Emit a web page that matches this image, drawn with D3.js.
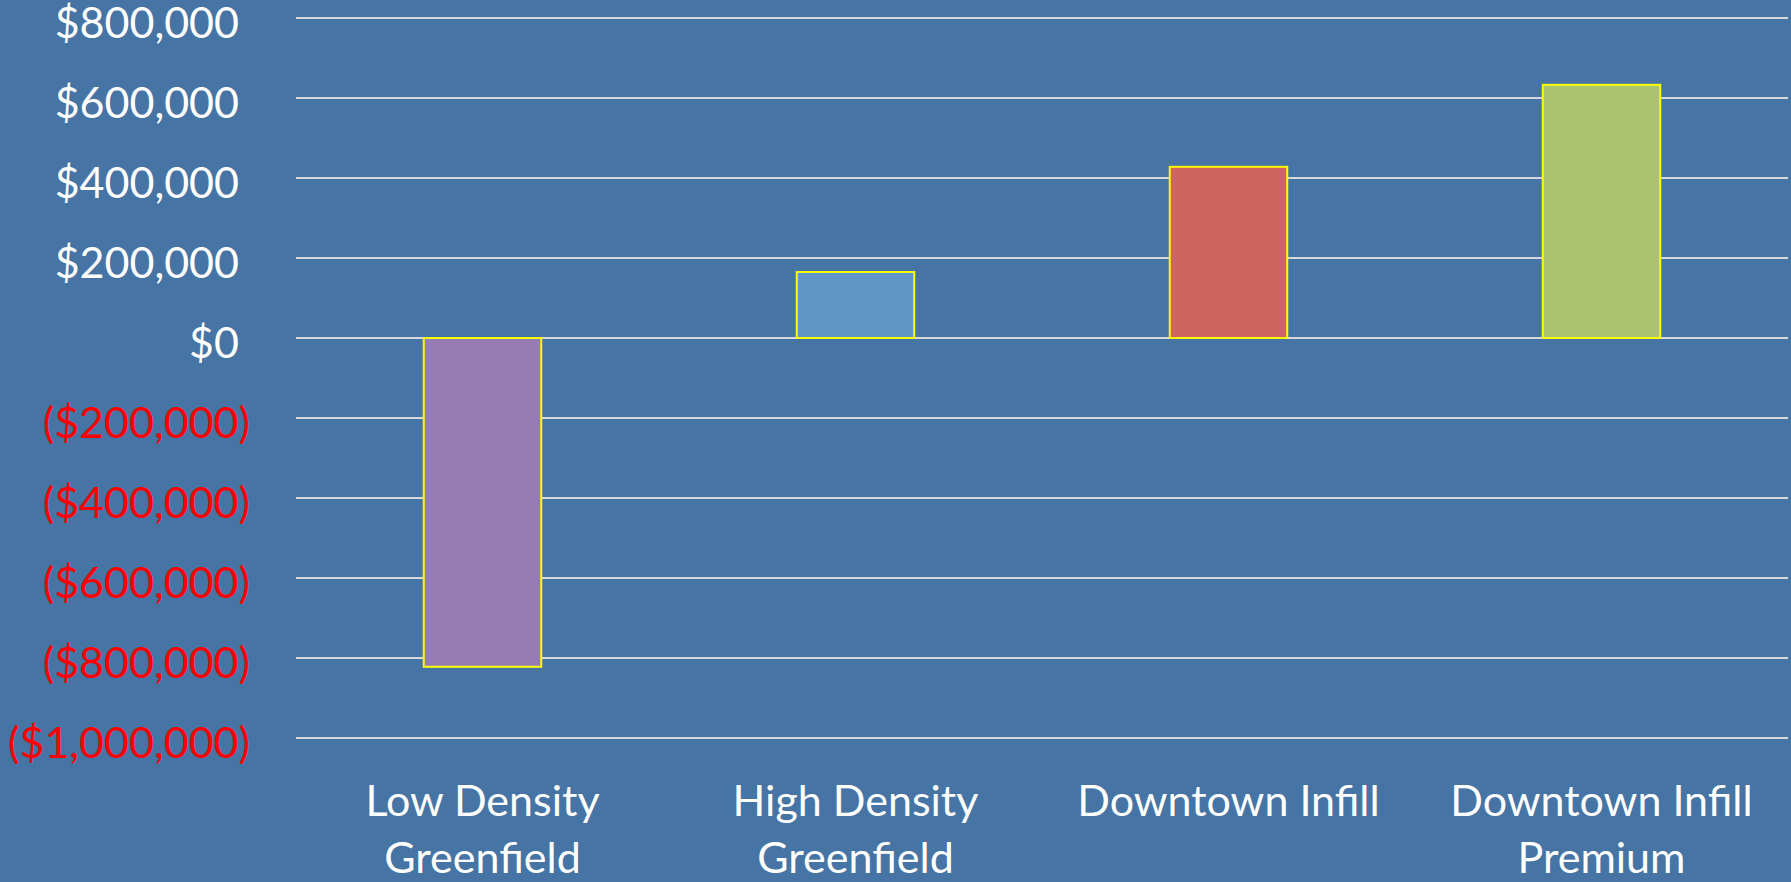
<!DOCTYPE html>
<html>
<head>
<meta charset="utf-8">
<script src="https://cdn.jsdelivr.net/npm/d3@7"></script>
<style>
  html, body { margin: 0; padding: 0; background: #4674A4; }
  svg { display: block; }
</style>
</head>
<body>
<svg id="chart" width="1791" height="882"></svg>
<script>
// Net fiscal impact per development scenario
const categories = [
  ["Low Density", "Greenfield"],
  ["High Density", "Greenfield"],
  ["Downtown Infill"],
  ["Downtown Infill", "Premium"]
];
const values = [-822000, 165000, 428000, 633000];
const barColors = ["#957DB1", "#6197C8", "#CD665E", "#AAC46E"];
const tickValues = [800000, 600000, 400000, 200000, 0, -200000, -400000, -600000, -800000, -1000000];

const W = 1791, H = 882;
const plot = { left: 296, right: 1788, top: 18, bottom: 738 };

const svg = d3.select("#chart");
svg.append("rect").attr("width", W).attr("height", H).attr("fill", "#4674A4");

const x = d3.scaleBand()
  .domain(d3.range(categories.length))
  .range([plot.left, plot.right])
  .paddingInner(0.685)
  .paddingOuter(0.3425);

const y = d3.scaleLinear()
  .domain([-1000000, 800000])
  .range([plot.bottom, plot.top]);

const money = d3.format("$,");
const fmt = v => v < 0 ? "(" + money(-v) + ")" : money(v);

// horizontal gridlines
svg.append("g")
  .selectAll("line")
  .data(tickValues)
  .join("line")
  .attr("x1", plot.left)
  .attr("x2", plot.right)
  .attr("y1", d => y(d))
  .attr("y2", d => y(d))
  .attr("stroke", "#D9D9D9")
  .attr("stroke-width", 2);

// value axis labels
const axis = d3.axisLeft(y).tickValues(tickValues).tickFormat(fmt).tickSize(0).tickPadding(0);
const ag = svg.append("g").attr("transform", "translate(250,0)").call(axis);
ag.select(".domain").remove();
ag.selectAll(".tick text")
  .attr("font-family", "Lato, 'Open Sans', sans-serif")
  .attr("font-size", 43)
  .attr("fill", d => d < 0 ? "#FF0000" : "#FFFFFF")
  .attr("x", d => d < 0 ? 0 : -11)
  .attr("dy", "0.45em");

// bars
svg.append("g")
  .selectAll("rect")
  .data(values)
  .join("rect")
  .attr("x", (d, i) => x(i))
  .attr("width", x.bandwidth())
  .attr("y", d => y(Math.max(0, d)))
  .attr("height", d => Math.abs(y(d) - y(0)))
  .attr("fill", (d, i) => barColors[i])
  .attr("stroke", "#FFFF00")
  .attr("stroke-width", 2);

// category labels
const cg = svg.append("g")
  .selectAll("text")
  .data(categories)
  .join("text")
  .attr("x", (d, i) => x(i) + x.bandwidth() / 2)
  .attr("y", 816)
  .attr("text-anchor", "middle")
  .attr("font-family", "Lato, 'Open Sans', sans-serif")
  .attr("font-size", 43)
  .attr("fill", "#FFFFFF");
cg.selectAll("tspan")
  .data(d => d)
  .join("tspan")
  .attr("x", function () { return this.parentNode.getAttribute("x"); })
  .attr("dy", (d, i) => i === 0 ? 0 : 57)
  .text(d => d);
</script>
</body>
</html>
